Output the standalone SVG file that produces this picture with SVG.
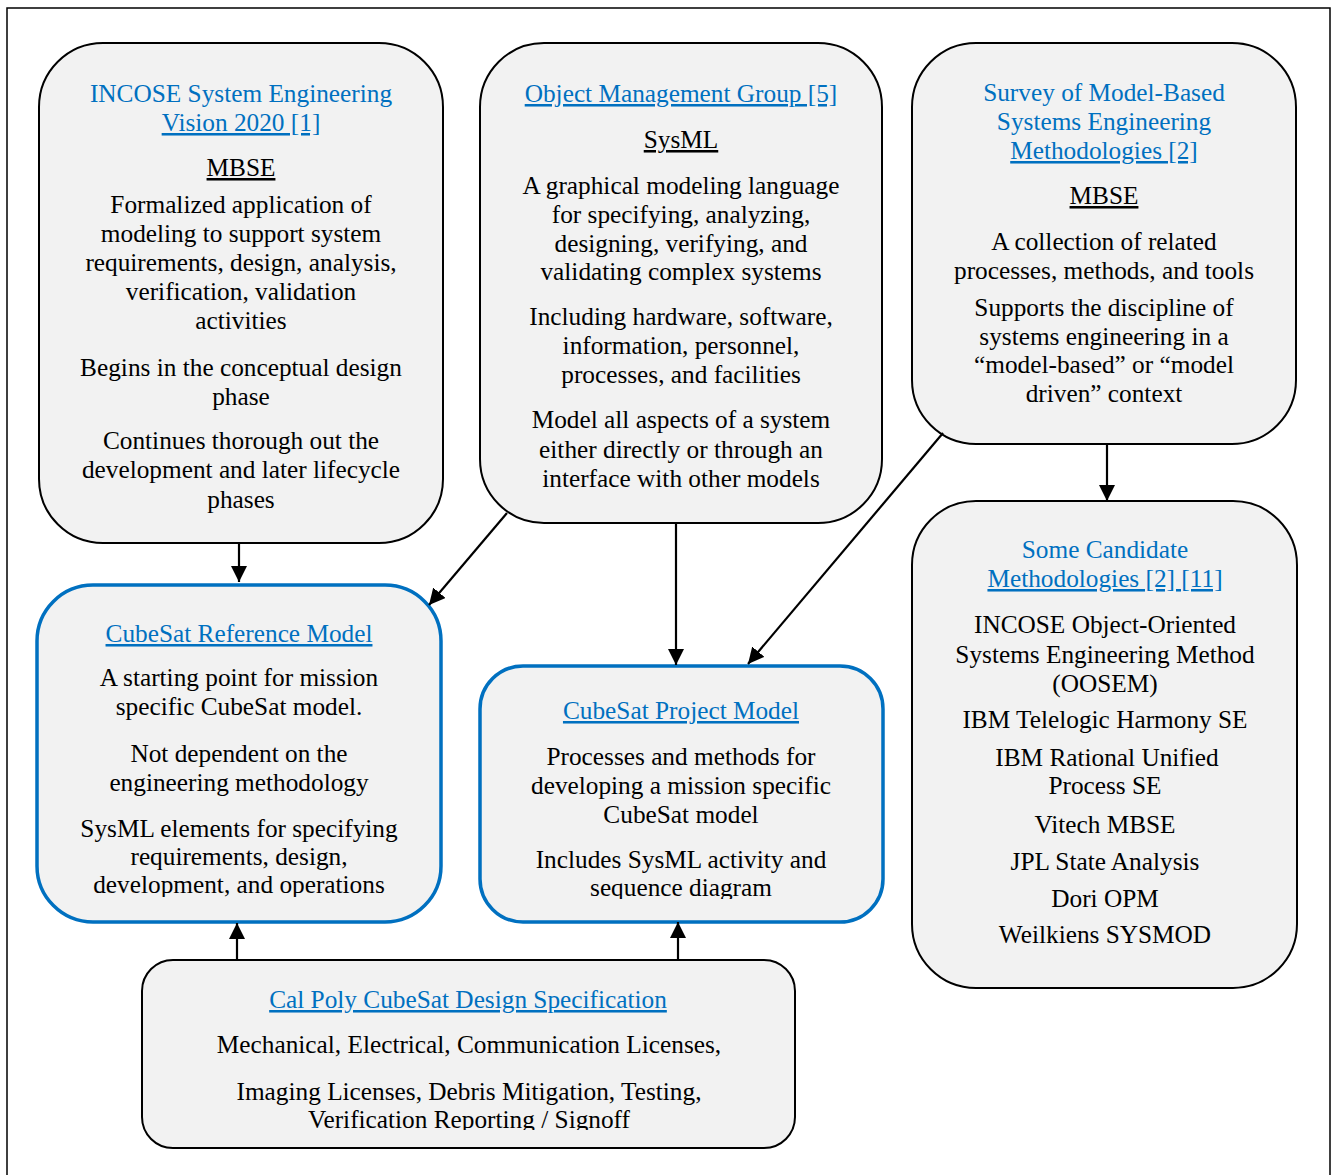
<svg xmlns="http://www.w3.org/2000/svg" width="1333" height="1175" viewBox="0 0 1333 1175">
<style>
.box{fill:#F2F2F2;stroke:#000;stroke-width:2}
.bbox{fill:#F2F2F2;stroke:#0070C0;stroke-width:3.5}
text{font-family:"Liberation Serif","Times New Roman",serif;font-size:25.3px;fill:#000;text-anchor:middle}
.t{fill:#0070C0}
.u{text-decoration:underline}
.conn line{stroke:#000;stroke-width:2.2}
</style>
<defs>
<marker id="ah" markerUnits="userSpaceOnUse" markerWidth="17" markerHeight="17" refX="16" refY="8" orient="auto">
<path d="M0,0 L16,8 L0,16 z" fill="#000"/>
</marker>
<clipPath id="c4"><rect x="37" y="585" width="404" height="312"/></clipPath>
<clipPath id="c5"><rect x="480" y="666" width="403" height="233"/></clipPath>
<clipPath id="c7"><rect x="142" y="960" width="653" height="170"/></clipPath>
</defs>
<rect x="7" y="8" width="1323" height="1200" fill="#fff" stroke="#000" stroke-width="1.5"/>

<g id="node-incose">
<rect class="box" x="39" y="43" width="404" height="500" rx="64" ry="64"/>
<text x="241" y="102" class="t">INCOSE System Engineering</text>
<text x="241" y="131" class="t u">Vision 2020 [1]</text>
<text x="241" y="176" class="u">MBSE</text>
<text x="241" y="213">Formalized application of</text>
<text x="241" y="242">modeling to support system</text>
<text x="241" y="271">requirements, design, analysis,</text>
<text x="241" y="300">verification, validation</text>
<text x="241" y="329">activities</text>
<text x="241" y="376">Begins in the conceptual design</text>
<text x="241" y="405">phase</text>
<text x="241" y="449">Continues thorough out the</text>
<text x="241" y="478">development and later lifecycle</text>
<text x="241" y="508">phases</text>
</g>

<g id="node-omg">
<rect class="box" x="480" y="43" width="402" height="480" rx="64" ry="64"/>
<text x="681" y="102" class="t u">Object Management Group [5]</text>
<text x="681" y="148" class="u">SysML</text>
<text x="681" y="194">A graphical modeling language</text>
<text x="681" y="223">for specifying, analyzing,</text>
<text x="681" y="252">designing, verifying, and</text>
<text x="681" y="280">validating complex systems</text>
<text x="681" y="325">Including hardware, software,</text>
<text x="681" y="354">information, personnel,</text>
<text x="681" y="383">processes, and facilities</text>
<text x="681" y="428">Model all aspects of a system</text>
<text x="681" y="458">either directly or through an</text>
<text x="681" y="487">interface with other models</text>
</g>

<g id="node-survey">
<rect class="box" x="912" y="43" width="384" height="401" rx="64" ry="64"/>
<text x="1104" y="101" class="t">Survey of Model-Based</text>
<text x="1104" y="130" class="t">Systems Engineering</text>
<text x="1104" y="159" class="t u">Methodologies [2]</text>
<text x="1104" y="204" class="u">MBSE</text>
<text x="1104" y="250">A collection of related</text>
<text x="1104" y="279">processes, methods, and tools</text>
<text x="1104" y="316">Supports the discipline of</text>
<text x="1104" y="345">systems engineering in a</text>
<text x="1104" y="373">“model-based” or “model</text>
<text x="1104" y="402">driven” context</text>
</g>

<g id="node-reference">
<rect class="bbox" x="37" y="585" width="404" height="337" rx="56" ry="56"/>
<g clip-path="url(#c4)">
<text x="239" y="642" class="t u">CubeSat Reference Model</text>
<text x="239" y="686">A starting point for mission</text>
<text x="239" y="715">specific CubeSat model.</text>
<text x="239" y="762">Not dependent on the</text>
<text x="239" y="791">engineering methodology</text>
<text x="239" y="837">SysML elements for specifying</text>
<text x="239" y="865">requirements, design,</text>
<text x="239" y="893">development, and operations</text>
</g>
</g>

<g id="node-project">
<rect class="bbox" x="480" y="666" width="403" height="256" rx="43" ry="43"/>
<g clip-path="url(#c5)">
<text x="681" y="719" class="t u">CubeSat Project Model</text>
<text x="681" y="765">Processes and methods for</text>
<text x="681" y="794">developing a mission specific</text>
<text x="681" y="823">CubeSat model</text>
<text x="681" y="868">Includes SysML activity and</text>
<text x="681" y="896">sequence diagram</text>
</g>
</g>

<g id="node-candidates">
<rect class="box" x="912" y="501" width="385" height="487" rx="64" ry="64"/>
<text x="1105" y="558" class="t">Some Candidate</text>
<text x="1105" y="587" class="t u">Methodologies [2] [11]</text>
<text x="1105" y="633">INCOSE Object-Oriented</text>
<text x="1105" y="663">Systems Engineering Method</text>
<text x="1105" y="692">(OOSEM)</text>
<text x="1105" y="728">IBM Telelogic Harmony SE</text>
<text x="1107" y="766">IBM Rational Unified</text>
<text x="1105" y="794">Process SE</text>
<text x="1105" y="833">Vitech MBSE</text>
<text x="1105" y="870">JPL State Analysis</text>
<text x="1105" y="907">Dori OPM</text>
<text x="1105" y="943">Weilkiens SYSMOD</text>
</g>

<g id="node-calpoly">
<rect class="box" x="142" y="960" width="653" height="188" rx="31" ry="31"/>
<g clip-path="url(#c7)">
<text x="468" y="1008" class="t u">Cal Poly CubeSat Design Specification</text>
<text x="469" y="1053">Mechanical, Electrical, Communication Licenses,</text>
<text x="469" y="1100">Imaging Licenses, Debris Mitigation, Testing,</text>
<text x="469" y="1128">Verification Reporting / Signoff</text>
</g>
</g>

<g id="connectors" class="conn">
<line x1="239" y1="543" x2="239" y2="582" marker-end="url(#ah)"/>
<line x1="507" y1="513" x2="429" y2="605" marker-end="url(#ah)"/>
<line x1="676" y1="522" x2="676" y2="665" marker-end="url(#ah)"/>
<line x1="943" y1="433" x2="748" y2="664" marker-end="url(#ah)"/>
<line x1="1107" y1="444" x2="1107" y2="501" marker-end="url(#ah)"/>
<line x1="237" y1="960" x2="237" y2="923" marker-end="url(#ah)"/>
<line x1="678" y1="960" x2="678" y2="922" marker-end="url(#ah)"/>
</g>
</svg>
